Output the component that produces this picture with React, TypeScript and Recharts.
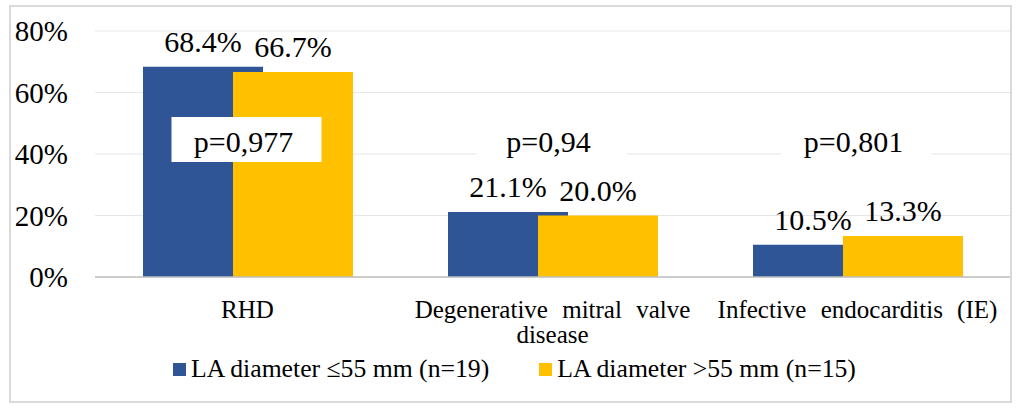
import React from 'react';
import { ComposedChart, Bar, XAxis, YAxis, CartesianGrid, LabelList, Legend, ReferenceDot } from 'recharts';

const categories = ['RHD', 'Degenerative mitral valve disease', 'Infective endocarditis (IE)'];
const categoryLines = [['RHD'], ['Degenerative mitral valve', 'disease'], ['Infective endocarditis (IE)']];
const smallLA = [68.4, 21.1, 10.5];
const largeLA = [66.7, 20.0, 13.3];
const pValues = ['p=0,977', 'p=0,94', 'p=0,801'];
const pAnchor = [40, 40, 40];
const yTicks = [0, 20, 40, 60, 80];
const seriesNames = ['LA diameter \u226455 mm (n=19)', 'LA diameter >55 mm (n=15)'];

const BLUE = '#2F5597';
const YELLOW = '#FFC000';
const FONT = '"Liberation Serif", "Times New Roman", serif';

const data = categories.map((c, i) => ({ category: c, small: smallLA[i], large: largeLA[i] }));

const XTick = (props: any) => {
  const { x, y, payload } = props;
  const idx = categories.indexOf(payload.value);
  const lines = categoryLines[idx] || [payload.value];
  return (
    <g>
      {lines.map((l: string, k: number) => (
        <text
          key={k}
          x={x}
          y={y + 41 + k * 25}
          textAnchor="middle"
          fontFamily={FONT}
          fontSize={25}
          fill="#000"
          style={{ wordSpacing: 8 }}
        >
          {l}
        </text>
      ))}
    </g>
  );
};

const YTick = (props: any) => {
  const { x, y, payload } = props;
  return (
    <text x={x} y={y} dy="0.355em" textAnchor="end" fontFamily={FONT} fontSize={29} fill="#000">
      {`${payload.value}%`}
    </text>
  );
};

const makePShape = (i: number) => (props: any) => {
  const { cx, cy } = props;
  return (
    <g>
      <rect x={cx - 76} y={cy - 37} width={150} height={45} fill="#fff" />
      <text x={cx - 4} y={cy - 2} textAnchor="middle" fontFamily={FONT} fontSize={30} fill="#000">
        {pValues[i]}
      </text>
    </g>
  );
};

const LegendContent = () => (
  <div
    style={{
      display: 'flex',
      alignItems: 'center',
      height: 30,
      paddingLeft: 173,
      fontFamily: FONT,
      fontSize: 25.7,
      color: '#000',
      whiteSpace: 'nowrap',
    }}
  >
    <span style={{ display: 'inline-block', width: 13, height: 13, background: BLUE, marginRight: 5, flexShrink: 0 }} />
    <span>{seriesNames[0]}</span>
    <span
      style={{ display: 'inline-block', width: 13, height: 13, background: YELLOW, marginLeft: 50, marginRight: 5, flexShrink: 0 }}
    />
    <span>{seriesNames[1]}</span>
  </div>
);

export default function App() {
  return (
    <div style={{ position: 'absolute', left: 0, top: 0, width: 1020, height: 410, background: '#fff' }}>
      <div
        style={{
          position: 'absolute',
          left: 9,
          top: 5,
          width: 1003,
          height: 398,
          border: '2px solid #d9d9d9',
          boxSizing: 'border-box',
        }}
      />
      <ComposedChart
        width={1020}
        height={410}
        data={data}
        margin={{ top: 31, right: 10, left: 0, bottom: 25 }}
        barGap={-30}
      >
        <CartesianGrid vertical={false} stroke="#e6e6e6" strokeWidth={1} />
        <XAxis
          dataKey="category"
          height={78}
          tickLine={false}
          tickSize={0}
          tickMargin={0}
          axisLine={{ stroke: '#bfbfbf', strokeWidth: 1.5 }}
          tick={<XTick />}
          interval={0}
        />
        <YAxis
          width={95}
          domain={[0, 80]}
          ticks={yTicks}
          axisLine={false}
          tickLine={false}
          tickSize={6}
          tickMargin={21}
          tick={<YTick />}
        />
        <Legend
          verticalAlign="bottom"
          content={<LegendContent />}
          wrapperStyle={{ left: 0, top: 354, width: 1020 }}
        />
        <Bar dataKey="small" name={seriesNames[0]} fill={BLUE} barSize={120} isAnimationActive={false}>
          <LabelList
            dataKey="small"
            position="top"
            offset={15}
            formatter={(v: number) => `${v.toFixed(1)}%`}
            fontFamily={FONT}
            fontSize={30}
            fill="#000"
          />
        </Bar>
        <Bar dataKey="large" name={seriesNames[1]} fill={YELLOW} barSize={120} isAnimationActive={false}>
          <LabelList
            dataKey="large"
            position="top"
            offset={15}
            formatter={(v: number) => `${v.toFixed(1)}%`}
            fontFamily={FONT}
            fontSize={30}
            fill="#000"
          />
        </Bar>
        {categories.map((c, i) => (
          <ReferenceDot
            key={c}
            x={c}
            y={pAnchor[i]}
            r={1}
            ifOverflow="visible"
            shape={makePShape(i)}
          />
        ))}
      </ComposedChart>
    </div>
  );
}
